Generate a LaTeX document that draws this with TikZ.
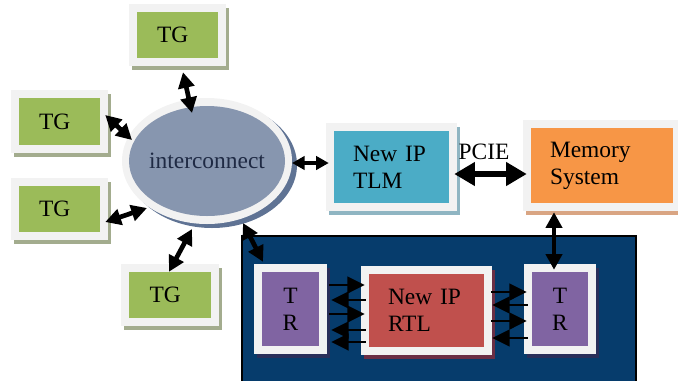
\documentclass[tikz,border=0pt]{standalone}
\usepackage{fontspec}
\setmainfont{Liberation Serif}
\usetikzlibrary{arrows.meta}
\definecolor{framegray}{HTML}{F2F2F2}
\definecolor{tggreen}{HTML}{9BBB59}
\definecolor{tgshadow}{HTML}{A3AC8E}
\definecolor{icfill}{HTML}{8796AF}
\definecolor{icshadow}{HTML}{5F7394}
\definecolor{ictext}{HTML}{1F2A44}
\definecolor{tlmfill}{HTML}{4BACC6}
\definecolor{tlmshadow}{HTML}{8FB5C2}
\definecolor{memfill}{HTML}{F79646}
\definecolor{memshadow}{HTML}{D9A583}
\definecolor{navy}{HTML}{063C6C}
\definecolor{trfill}{HTML}{8064A2}
\definecolor{trshadow}{HTML}{2A2F5A}
\definecolor{rtlfill}{HTML}{C0504D}
\definecolor{rtlshadow}{HTML}{6B2F45}
% name, x1, y1, x2, y2 (inner coloured box, px), fill, shadow, node options, text
\newcommand\ipbox[9]{%
  \fill[#7] ({#2-8+3},{#3-8+4}) rectangle ({#4+8+3},{#5+8+4});
  \fill[framegray] ({#2-8},{#3-8}) rectangle ({#4+8},{#5+8});
  \pgfmathsetmacro\ipW{(#4-#2)*0.03}%
  \pgfmathsetmacro\ipH{(#5-#3)*0.03}%
  \node[fill=#6, minimum width=\ipW cm, minimum height=\ipH cm, inner sep=0pt, txt, #8]
    (#1) at ({(#2+#4)/2},{(#3+#5)/2}) {#9};
}
\begin{document}
\begin{tikzpicture}[x=0.03cm,y=-0.03cm,
  txt/.style={font=\fontsize{20}{23}\selectfont, text=black},
  tgtext/.style={align=left, inner xsep=0.6cm, text width=1.23cm},
  lefttext/.style={align=left, inner xsep=0.57cm, text width=#1},
  dbl/.style={{Triangle[length=0.47cm,width=0.48cm]}-{Triangle[length=0.47cm,width=0.48cm]}, line width=0.14cm},
  mid/.style={{Triangle[length=0.38cm,width=0.4cm]}-{Triangle[length=0.38cm,width=0.4cm]}, line width=0.1cm},
  big/.style={{Triangle[length=0.62cm,width=0.68cm]}-{Triangle[length=0.62cm,width=0.68cm]}, line width=0.19cm},
  sgl/.style={-{Triangle[length=0.52cm,width=0.5cm]}, line width=0.07cm}]
\useasboundingbox (0,0) rectangle (678,380);

% navy RTL environment
\draw[fill=navy, draw=black, line width=0.04cm] (242,236) rectangle (636,395);

% TG boxes
\ipbox{tgT}{137}{12}{218}{58}{tggreen}{tgshadow}{tgtext}{TG}
\ipbox{tgL1}{19}{98}{100}{145}{tggreen}{tgshadow}{tgtext}{TG}
\ipbox{tgL2}{19}{186}{100}{232}{tggreen}{tgshadow}{tgtext}{TG}
\ipbox{tgB}{129}{272}{211}{318}{tggreen}{tgshadow}{tgtext}{TG}

% interconnect ellipse
\fill[icshadow] (212,165) ellipse [x radius=85, y radius=63];
\fill[framegray] (207,161) ellipse [x radius=85, y radius=63];
\fill[icfill] (207,161) ellipse [x radius=78, y radius=55];
\node[txt, text=ictext, inner sep=0pt] (ic) at (207,161) {interconnect};

% TLM and memory
\ipbox{tlm}{334}{131}{449}{203}{tlmfill}{tlmshadow}{lefttext=2.31cm}{New IP\\TLM}
\ipbox{mem}{531}{128}{673}{203}{memfill}{memshadow}{lefttext=3.12cm}{Memory\\System}
\node[txt, inner sep=0pt] (pcie) at (484,152) {PCIE};

% RTL side
\ipbox{trL}{262}{272}{319}{346}{trfill}{trshadow}{align=center}{T\\R}
\ipbox{rtl}{369}{274}{484}{347}{rtlfill}{rtlshadow}{lefttext=2.31cm}{New IP\\RTL}
\ipbox{trR}{532}{272}{588}{346}{trfill}{trshadow}{align=center}{T\\R}

% connectors
\draw[dbl] ([shift={(5.5,14)}]tgT.south) -- ([shift={(-15,-48)}]ic.center);
\draw[dbl] ([shift={(5,-6.5)}]tgL1.east) -- ([shift={(-75,-21)}]ic.center);
\draw[dbl] ([shift={(5,13)}]tgL2.east) -- ([shift={(-60,47)}]ic.center);
\draw[dbl] ([shift={(-15,68)}]ic.center) -- ([shift={(-1,0)}]tgB.north);
\draw[dbl] ([shift={(36,62)}]ic.center) -- ([shift={(-27.5,-10)}]trL.north);
\draw[mid] ([shift={(85,2)}]ic.center) -- ([shift={(-5,-4)}]tlm.west);
\draw[big] ([shift={(5,7)}]tlm.east) -- ([shift={(-4,8.5)}]mem.west);
\draw[dbl] ([shift={(-48,9)}]mem.south) -- ([shift={(-6,-2)}]trR.north);

\foreach \yy in {285,314}
  \draw[sgl] ([shift={(10,\yy-309)}]trL.east) -- ([shift={(-4,\yy-310.5)}]rtl.west);
\foreach \yy in {300,330,342}
  \draw[sgl] ([shift={(-3,\yy-310.5)}]rtl.west) -- ([shift={(12,\yy-309)}]trL.east);
\foreach \yy in {292,321}
  \draw[sgl] ([shift={(7,\yy-310.5)}]rtl.east) -- ([shift={(-5,\yy-309)}]trR.west);
\foreach \yy in {305,338}
  \draw[sgl] ([shift={(-4,\yy-309)}]trR.west) -- ([shift={(8,\yy-310.5)}]rtl.east);
\end{tikzpicture}
\end{document}
